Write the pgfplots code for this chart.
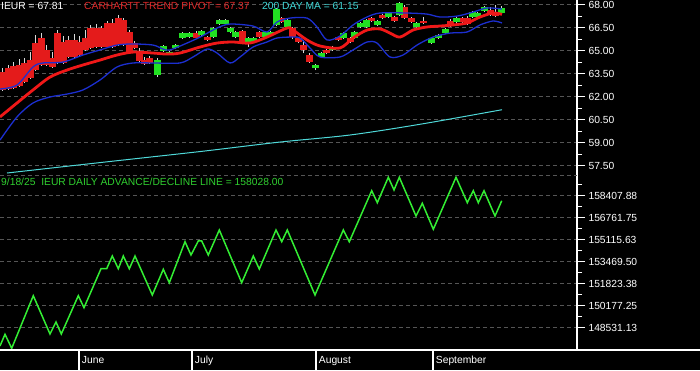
\documentclass[border=0pt]{standalone}
\usepackage{pgfplots}
\usepackage{pgfplotstable}
\pgfplotsset{compat=1.18}
\usepackage{fontspec}
\setmainfont{Liberation Sans}
\definecolor{bg}{HTML}{000000}
\definecolor{gridc}{HTML}{555555}
\definecolor{cred}{HTML}{E41B1B}
\definecolor{cgreen}{HTML}{22E022}
\definecolor{wick}{HTML}{D8D8D8}
\definecolor{bandblue}{HTML}{1C2FD0}
\definecolor{trendred}{HTML}{F01818}
\definecolor{macyan}{HTML}{4FD8D8}
\definecolor{adgreen}{HTML}{33EE33}
\definecolor{txtred}{HTML}{E02828}
\definecolor{txtcyan}{HTML}{40D8D8}
\definecolor{txtgreen}{HTML}{30D030}
\newcommand{\tf}{\fontsize{10.3}{12}\selectfont}

\pgfplotstableread{
x o h l c
2.5 63.61 63.87 62.40 62.44
8 63.87 64.05 62.45 62.50
13.5 64.00 64.26 62.52 62.57
19 64.07 64.46 62.65 62.70
24.5 64.20 64.52 62.90 62.96
30 64.39 64.91 63.16 63.22
35.5 65.50 66.02 63.68 63.74
41 65.83 66.15 64.01 64.07
46.5 65.05 65.37 64.01 64.07
52 64.52 64.91 63.88 63.94
57.5 66.15 66.35 64.14 64.20
63 65.57 65.96 64.14 64.20
68.5 65.70 65.96 64.53 64.59
74 65.70 66.09 64.53 64.59
79.5 65.57 65.96 64.66 64.72
85 65.83 66.35 64.99 65.05
90.5 66.48 66.68 65.12 65.18
96 66.48 66.74 65.18 65.24
101.5 66.48 66.61 65.18 65.24
107 66.81 66.94 65.18 65.24
112.5 66.81 67.07 65.18 65.24
118 67.13 67.33 65.31 65.37
123.5 67.00 67.13 65.31 65.37
129 66.22 66.35 64.79 64.85
134 65.50 65.63 65.12 65.18
139 64.91 65.18 64.27 64.33
144 64.39 64.59 64.07 64.13
149 64.52 64.65 64.14 64.20
196 66.15 66.28 65.76 65.83
207 65.89 65.96 65.63 65.70
242 66.28 66.35 65.50 65.57
259 66.22 66.28 65.83 65.89
281.5 67.13 67.20 66.81 66.87
292 66.48 66.55 65.76 65.89
298 65.83 65.89 65.50 65.57
303.5 65.37 65.70 64.85 65.05
309 64.72 64.85 64.20 64.26
326 65.05 65.11 64.78 64.85
338 65.89 65.96 65.63 65.70
350 65.83 65.89 65.50 65.57
371.5 67.13 67.20 66.87 66.94
382.5 67.33 67.39 67.07 67.13
394 67.20 67.26 66.87 66.94
404 67.85 68.00 67.07 67.13
411.5 67.13 67.20 66.81 66.87
423.5 66.94 67.20 66.74 66.81
450 66.94 67.07 66.55 66.61
462.5 67.13 67.20 66.81 66.87
467.5 67.13 67.26 66.68 66.74
490 67.65 67.85 67.26 67.33
495 67.52 68.00 67.20 67.26
}\redtab

\pgfplotstableread{
x o h l c
157 63.41 64.52 63.28 64.39
163.5 64.98 65.37 64.91 65.31
169.5 64.85 65.00 64.75 64.90
175 65.18 65.44 65.11 65.37
182 65.83 66.22 65.76 66.15
189.5 65.89 66.22 65.83 66.15
201 66.02 66.35 65.96 66.28
213 65.89 66.55 65.83 66.48
219 66.74 67.07 66.68 67.00
225 66.74 67.07 66.68 67.00
230 66.22 66.55 66.15 66.48
235 65.89 66.28 65.83 66.22
248 65.50 65.89 65.24 65.83
253.5 65.57 65.89 65.50 65.83
265 65.89 66.28 65.83 66.22
270.5 66.02 66.28 65.96 66.22
276 66.68 67.78 66.61 67.72
287 66.55 67.07 66.48 67.00
315 63.87 64.13 63.74 64.07
321 64.59 64.91 64.52 64.85
332 65.05 65.31 64.98 65.24
343.5 65.83 66.22 65.76 66.15
354.5 65.83 66.28 65.76 66.22
360 66.55 66.87 66.48 66.81
366.5 66.55 67.07 66.48 67.00
377.5 66.68 67.00 66.61 66.94
388.5 67.20 67.52 67.13 67.46
399 67.33 68.20 67.26 68.11
416.5 66.55 66.87 66.48 66.81
431.5 65.50 65.89 65.44 65.83
438.5 65.83 66.09 65.76 66.02
445 66.15 66.48 66.09 66.42
456.5 66.87 67.20 66.81 67.13
472.5 67.20 67.59 67.13 67.52
477 67.20 67.52 67.13 67.46
484 67.59 67.92 67.52 67.85
501 67.46 67.95 67.40 67.81
}\greentab

\pgfplotstableread{
x y
0 62.50
17 62.76
33 63.94
43 64.20
63 64.26
83 64.72
100 65.05
117 65.37
133 65.44
153 65.37
163 65.11
170 65.05
187 65.50
200 65.89
217 66.48
230 66.74
253 66.61
267 66.22
277 66.87
290 67.13
307 67.13
317 66.55
327 65.70
340 65.96
353 66.68
367 67.20
380 67.46
407 67.46
427 67.39
440 67.20
457 67.26
473 67.52
487 67.79
502 67.72
}\uppertab

\pgfplotstableread{
x y
0 59.17
17 60.68
33 61.59
50 61.98
67 62.17
83 62.44
100 63.09
117 63.94
133 64.20
153 64.20
180 64.20
193 64.59
207 65.11
217 64.85
230 64.20
240 64.59
253 65.24
267 65.57
277 65.83
290 65.89
300 65.83
310 65.18
320 64.59
340 64.59
353 65.05
367 65.57
377 65.50
390 64.59
403 64.72
417 65.37
433 65.89
450 66.15
467 66.22
480 66.68
493 66.94
502 66.81
}\lowertab

\pgfplotstableread{
x y
0 60.68
17 61.59
33 62.44
50 63.28
67 63.74
83 64.07
100 64.39
117 64.72
133 64.91
153 64.85
167 64.78
180 64.85
200 65.24
217 65.50
233 65.57
250 65.50
267 65.89
287 66.48
293 66.35
307 65.70
320 65.31
340 65.18
353 65.83
367 66.35
380 66.42
390 66.15
400 65.89
413 66.35
427 66.55
440 66.61
453 66.68
467 66.81
480 67.20
493 67.46
502 67.37
}\trendtab

\pgfplotstableread{
x y
7 57.02
100 57.70
200 58.42
280 59.04
350 59.50
420 60.20
502 61.15
}\matab

\pgfplotstableread{
x y
0 147163
5 148038
11.7 146990
33.3 150926
50 148060
56 148958
61.3 148060
78.3 150926
84 150028
101 152946
106.7 152946
112.3 153896
118.3 152946
123.3 153896
129.3 152946
135 153896
152.3 150978
163.3 152901
169.3 151899
185 154966
191 153971
198.3 155019
201.7 155019
208.3 153971
219.3 155842
241.7 151899
253.3 153896
259.3 152924
276 155842
281.7 154966
287.3 155842
315 150978
343.3 155842
349.3 154966
371.7 158782
377.3 157884
388.3 159785
394 158834
399.3 159785
416 156889
422.3 157839
433.3 155894
456 159785
467.3 157884
473.3 158782
478.3 157884
484 158782
495 156889
501.7 158028
}\adtab

\pgfplotstablegetrowsof{\redtab}\pgfmathtruncatemacro\nred{\pgfplotsretval-1}
\pgfplotstablegetrowsof{\greentab}\pgfmathtruncatemacro\ngreen{\pgfplotsretval-1}

% draw wicks or bodies of all candles of one table
\newcommand{\candlewicks}[2]{%
  \pgfplotsforeachungrouped \i in {0,...,#2}{%
    \pgfplotstablegetelem{\i}{x}\of#1\let\cx\pgfplotsretval
    \pgfplotstablegetelem{\i}{h}\of#1\let\ch\pgfplotsretval
    \pgfplotstablegetelem{\i}{l}\of#1\let\cl\pgfplotsretval
    \edef\tmp{\noexpand\addplot[wick, line width=0.9pt, mark=none, forget plot] coordinates {(\cx,\cl) (\cx,\ch)};}\tmp
  }}
\newcommand{\candlebodies}[3]{%
  \pgfplotsforeachungrouped \i in {0,...,#2}{%
    \pgfplotstablegetelem{\i}{x}\of#1\let\cx\pgfplotsretval
    \pgfplotstablegetelem{\i}{o}\of#1\let\co\pgfplotsretval
    \pgfplotstablegetelem{\i}{c}\of#1\let\cc\pgfplotsretval
    \edef\tmp{\noexpand\addplot[#3, line width=7pt, line cap=butt, mark=none, forget plot] coordinates {(\cx,\co) (\cx,\cc)};}\tmp
  }}

\begin{document}
\begin{tikzpicture}[x=1pt,y=1pt]
\fill[bg] (0,0) rectangle (700,370);
\useasboundingbox (0,0) rectangle (700,370);

% ---------- top panel ----------
\begin{axis}[
  at={(0pt,195pt)}, anchor=south west,
  width=577pt, height=175pt, scale only axis,
  xmin=0, xmax=577, ymin=56.89, ymax=68.31,
  axis x line=none, axis y line*=right,
  axis line style={white, line width=1.1pt, -},
  ytick={57.5,59,60.5,62,63.5,65,66.5,68},
  yticklabels={57.50,59.00,60.50,62.00,63.50,65.00,66.50,68.00},
  minor ytick={58.25,59.75,61.25,62.75,64.25,65.75,67.25},
  tick align=outside, major tick length=8pt, minor tick length=5pt,
  every tick/.style={white, line width=0.9pt},
  yticklabel style={text=white, font=\tf},
  ymajorgrids, major grid style={gridc, dash pattern=on 4pt off 3pt, line width=0.7pt},
]
\candlewicks{\redtab}{\nred}
\candlewicks{\greentab}{\ngreen}
\candlebodies{\redtab}{\nred}{cred}
\candlebodies{\greentab}{\ngreen}{cgreen}
% lines
\addplot[macyan, line width=1pt, mark=none, smooth] table {\matab};
\addplot[bandblue, line width=1.3pt, mark=none, smooth] table {\uppertab};
\addplot[bandblue, line width=1.3pt, mark=none, smooth] table {\lowertab};
\addplot[trendred, line width=2.8pt, mark=none, smooth] table {\trendtab};
\end{axis}

% ---------- bottom panel ----------
\begin{axis}[
  at={(0pt,20pt)}, anchor=south west,
  width=577pt, height=175pt, scale only axis,
  xmin=0, xmax=577, ymin=146863.2, ymax=159956.7,
  axis x line=none, axis y line*=right,
  axis line style={white, line width=1.1pt, -},
  ytick={148531.13,150177.25,151823.38,153469.50,155115.63,156761.75,158407.88},
  yticklabels={148531.13,150177.25,151823.38,153469.50,155115.63,156761.75,158407.88},
  minor ytick={149354.19,151000.31,152646.44,154292.56,155938.69,157584.81,159230.94},
  tick align=outside, major tick length=8pt, minor tick length=5pt,
  every tick/.style={white, line width=0.9pt},
  yticklabel style={text=white, font=\tf},
  scaled y ticks=false,
  ymajorgrids, major grid style={gridc, dash pattern=on 4pt off 3pt, line width=0.7pt},
]
\addplot[adgreen, line width=1.5pt, mark=none] table {\adtab};
\end{axis}

% separator and bottom axis
\draw[gridc, dash pattern=on 4pt off 3pt, line width=0.7pt] (0,195) -- (577,195);
\draw[white, line width=1.1pt] (0,20) -- (700,20);
\foreach \x/\m in {79/June,192/July,316/August,433/September}{
  \draw[white, line width=1.1pt] (\x,0) -- (\x,20);
  \node[anchor=base west, inner sep=0pt, text=white, font=\tf] at (\x+2.7,6.7) {\m};
}
% titles
\node[anchor=base west, inner sep=0pt, text=white, font=\tf] at (1,360) {IEUR = 67.81};
\node[anchor=base west, inner sep=0pt, text=txtred, font=\tf] at (84,360) {CARHARTT TREND PIVOT = 67.37};
\node[anchor=base west, inner sep=0pt, text=txtcyan, font=\tf] at (262,360) {200 DAY MA = 61.15};
\node[anchor=base west, inner sep=0pt, text=txtgreen, font=\tf] at (1,184.3) {9/18/25\ \ IEUR DAILY ADVANCE/DECLINE LINE = 158028.00};
\end{tikzpicture}
\end{document}
